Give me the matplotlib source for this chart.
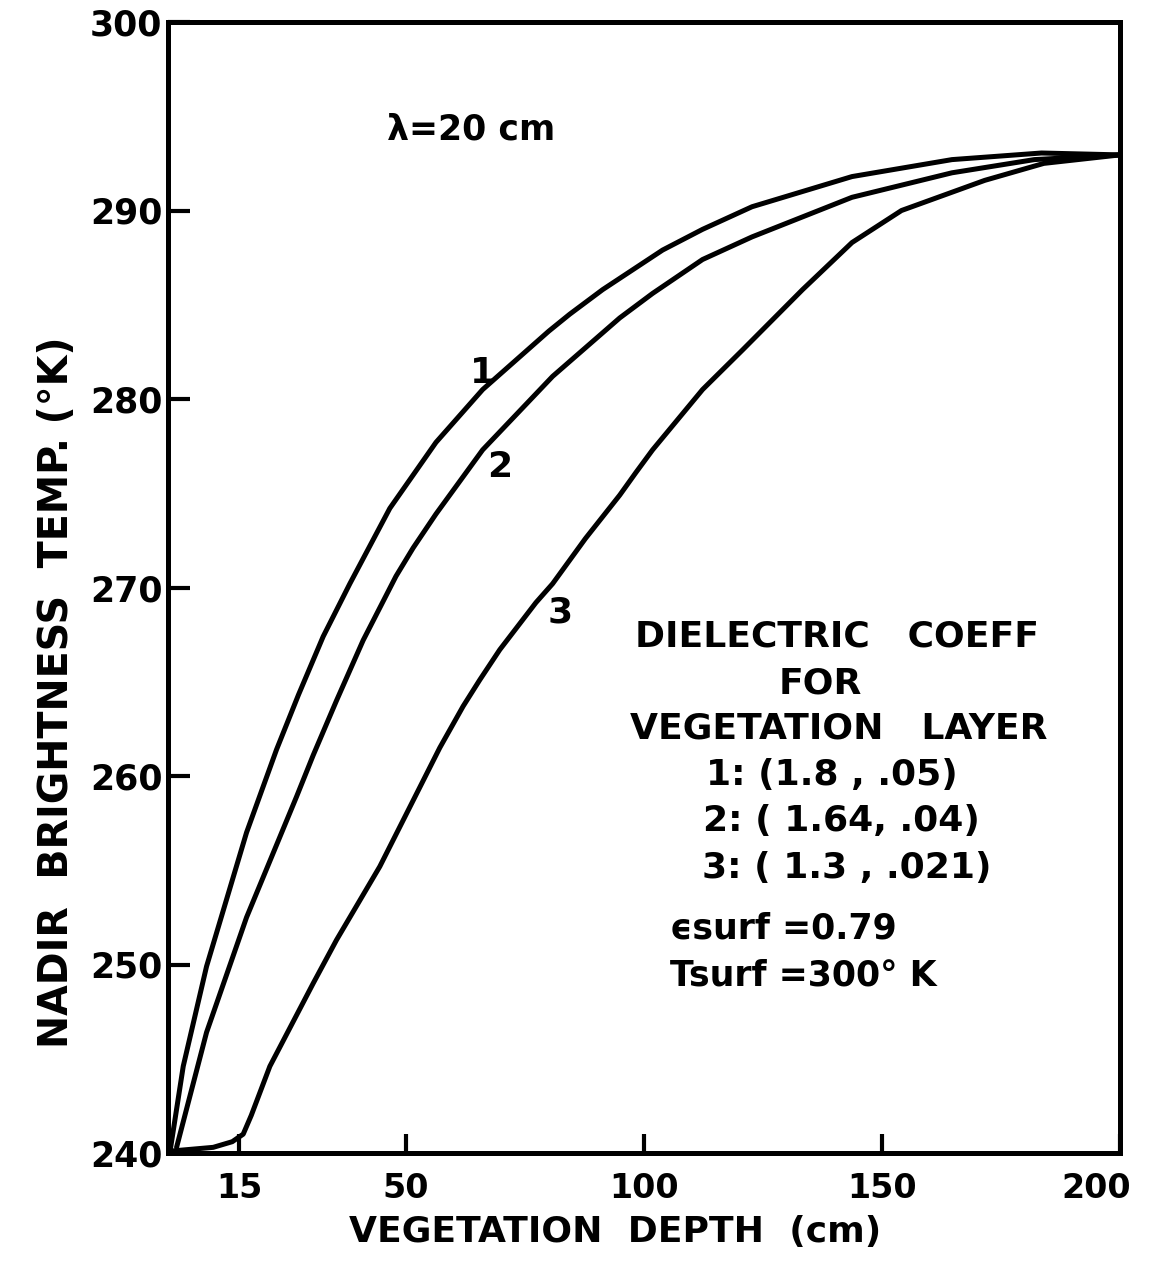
import matplotlib
matplotlib.use("Agg")
import matplotlib.pyplot as plt
from matplotlib.transforms import ScaledTranslation

# nadir brightness temperature vs vegetation depth, three dielectric cases
depth_1 = [0.5, 3.2, 8.1, 16.5, 22.8, 27.4, 32.6, 38.2, 46.6, 56.3, 66.1, 80.0,
           84.4, 91.3, 103.9, 112.3, 122.7, 143.7, 164.7, 183.5, 200.0]
temp_1 = [240.2, 244.6, 249.9, 257.0, 261.4, 264.3, 267.4, 270.2, 274.2, 277.7,
          280.5, 283.6, 284.5, 285.8, 287.9, 289.0, 290.2, 291.8, 292.7, 293.05,
          292.95]

depth_2 = [1.8, 8.1, 16.5, 27.0, 30.5, 35.4, 41.0, 47.9, 51.5, 56.3, 66.1, 80.8,
           94.9, 101.8, 112.3, 122.7, 143.7, 164.7, 182.0, 200.0]
temp_2 = [240.3, 246.4, 252.5, 258.9, 261.1, 264.0, 267.2, 270.6, 272.1, 273.9,
          277.3, 281.2, 284.3, 285.6, 287.4, 288.6, 290.7, 292.0, 292.7, 292.95]

depth_3 = [0.5, 5.0, 9.5, 13.5, 15.8, 17.5, 21.4, 30.5, 35.4, 44.5, 47.9, 57.1,
           62.0, 65.5, 69.7, 77.3, 80.8, 87.7, 94.9, 98.3, 101.8, 112.3, 120.7,
           133.3, 143.7, 154.1, 171.6, 184.0, 200.0]
temp_3 = [240.1, 240.2, 240.3, 240.6, 241.0, 242.0, 244.6, 249.0, 251.3, 255.2,
          256.9, 261.5, 263.7, 265.1, 266.7, 269.2, 270.2, 272.6, 274.9, 276.1,
          277.3, 280.5, 282.6, 285.8, 288.3, 290.0, 291.6, 292.5, 292.95]

x_ticks = [15, 50, 100, 150, 200]
y_ticks = [240, 250, 260, 270, 280, 290, 300]

curve_labels = ["1", "2", "3"]
curve_label_pos = [(66.1, 281.4), (69.7, 276.4), (82.3, 268.7)]

legend_lines = ["DIELECTRIC   COEFF", "FOR", "VEGETATION   LAYER",
                "1: (1.8 , .05)", "2: ( 1.64, .04)", "3: ( 1.3 , .021)"]
legend_x = [140.5, 137.0, 141.0, 139.5, 141.5, 142.5]
legend_y = [267.4, 264.9, 262.5, 260.05, 257.6, 255.1]

plt.rcParams.update({
    "font.family": "DejaVu Sans",
    "font.weight": "bold",
})

fig = plt.figure(figsize=(11.6, 12.63), dpi=100)
ax = fig.add_axes([168 / 1160, 110 / 1263, (1120 - 168) / 1160, (1153 - 22) / 1263])

for xs, ys in [(depth_1, temp_1), (depth_2, temp_2), (depth_3, temp_3)]:
    ax.plot(xs, ys, color="black", lw=3.6, solid_capstyle="round",
            solid_joinstyle="round", clip_on=False)

ax.set_xlim(0, 200)
ax.set_ylim(240, 300)
ax.set_xticks(x_ticks)
ax.set_yticks(y_ticks)
ax.tick_params(axis="both", direction="in", width=3, colors="black")
ax.tick_params(axis="x", length=14, pad=14, labelsize=24)
ax.tick_params(axis="y", length=16, pad=4, labelsize=25)
for lab in ax.get_xticklabels() + ax.get_yticklabels():
    lab.set_fontweight("bold")
# last x label sits inside the corner
last = ax.get_xticklabels()[-1]
last.set_transform(last.get_transform() + ScaledTranslation(-0.24, 0, fig.dpi_scale_trans))
for sp in ax.spines.values():
    sp.set_linewidth(3.6)

for txt, (lx, ly) in zip(curve_labels, curve_label_pos):
    ax.text(lx, ly, txt, fontsize=26, ha="center", va="center")

ax.text(63.6, 294.3, "λ=20 cm", fontsize=25, ha="center", va="center")

for txt, lx, ly in zip(legend_lines, legend_x, legend_y):
    ax.text(lx, ly, txt, fontsize=26, ha="center", va="center")
ax.text(105.5, 251.9, "ϵsurf =0.79", fontsize=25, ha="left", va="center")
ax.text(105.5, 249.4, "Tsurf =300° K", fontsize=25, ha="left", va="center")

fig.text(615 / 1160, 1 - 1232 / 1263, "VEGETATION  DEPTH  (cm)",
         fontsize=26, ha="center", va="center")
fig.text(57 / 1160, 1 - 692 / 1263, "NADIR  BRIGHTNESS  TEMP. (°K)",
         fontsize=28.5, ha="center", va="center", rotation=90)

fig.savefig("out.png", dpi=100, facecolor="white")
